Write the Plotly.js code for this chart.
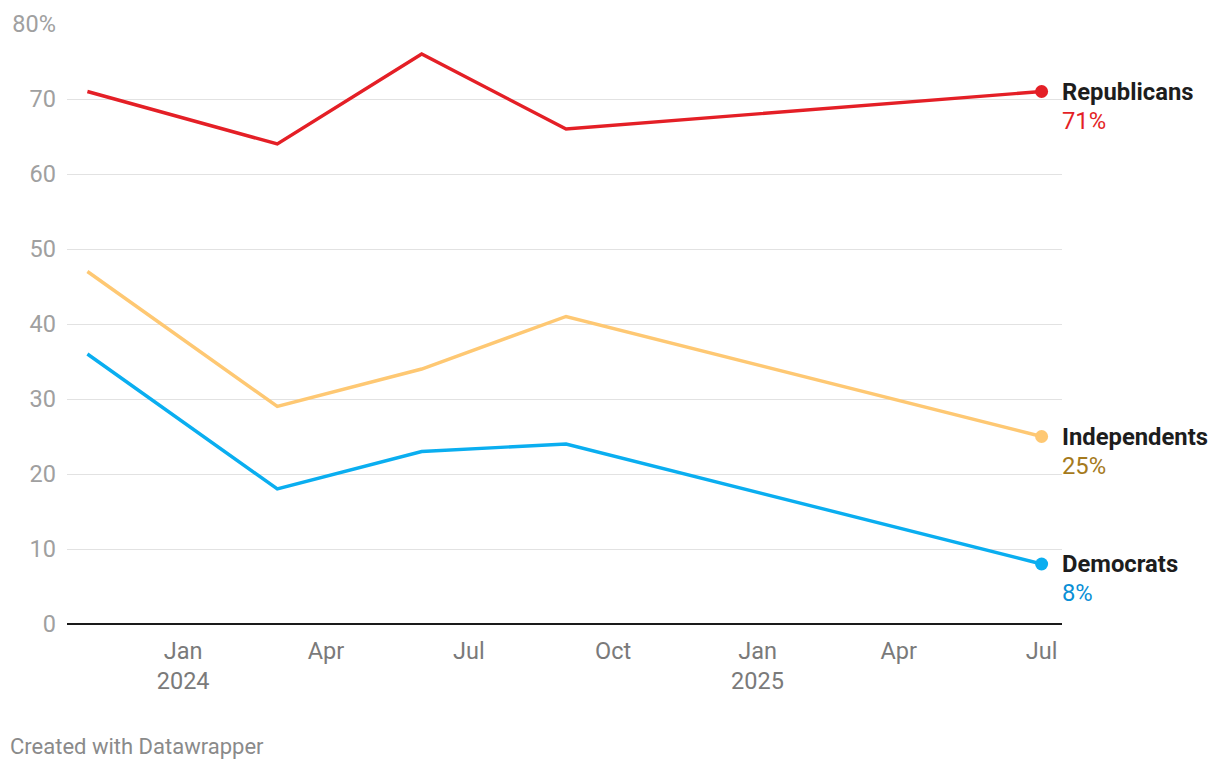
<!DOCTYPE html>
<html>
<head>
<meta charset="utf-8">
<script src="https://cdn.plot.ly/plotly-3.0.1.min.js"></script>
<style>
html,body{margin:0;padding:0;background:#fff;}
#chart{width:1220px;height:770px;}
</style>
</head>
<body>
<div id="chart"></div>
<script>
const dates = ["2023-11-01", "2024-03-01", "2024-06-01", "2024-09-01", "2025-07-01"];
const republicans = [71, 64, 76, 66, 71];
const independents = [47, 29, 34, 41, 25];
const democrats = [36, 18, 23, 24, 8];

const seriesNames = ["Republicans", "Independents", "Democrats"];
const seriesValues = [republicans, independents, democrats];
const lineColors = ["#e41f26", "#fec873", "#0aaef0"];
const labelColors = ["#e41f26", "#a57a1c", "#0a8fd6"];

const xTickVals = ["2024-01-01", "2024-04-01", "2024-07-01", "2024-10-01", "2025-01-01", "2025-04-01", "2025-07-01"];
const xTickText = ["Jan<br>2024", "Apr", "Jul", "Oct", "Jan<br>2025", "Apr", "Jul"];
const yTickVals = [0, 10, 20, 30, 40, 50, 60, 70, 80];
const yTickText = ["0", "10", "20", "30", "40", "50", "60", "70", "80%"];

const traces = [];
const annotations = [];
seriesNames.forEach((name, i) => {
  const vals = seriesValues[i];
  traces.push({
    x: dates, y: vals, type: "scatter", mode: "lines",
    line: {color: lineColors[i], width: 3.4},
    hoverinfo: "skip", showlegend: false, cliponaxis: false
  });
  const lastX = dates[dates.length - 1];
  const lastY = vals[vals.length - 1];
  traces.push({
    x: [lastX], y: [lastY], type: "scatter", mode: "markers",
    marker: {color: lineColors[i], size: 13},
    hoverinfo: "skip", showlegend: false, cliponaxis: false
  });
  annotations.push({
    x: lastX, y: lastY, xref: "x", yref: "y",
    text: "<b>" + name + "</b>", showarrow: false,
    xanchor: "left", yanchor: "middle", xshift: 18, yshift: 0,
    font: {family: "Roboto", size: 23.8, color: "#1d1d1d"}
  });
  annotations.push({
    x: lastX, y: lastY, xref: "x", yref: "y",
    text: lastY + "%", showarrow: false,
    xanchor: "left", yanchor: "middle", xshift: 18, yshift: -29,
    font: {family: "Roboto", size: 23.8, color: labelColors[i]}
  });
});

annotations.push({
  x: 0, y: 0, xref: "paper", yref: "paper",
  text: "Created with Datawrapper", showarrow: false,
  xanchor: "left", yanchor: "middle", xshift: -59, yshift: -122,
  font: {family: "Roboto", size: 22, color: "#8a8a8a"}
});

const layout = {
  width: 1220, height: 770,
  margin: {l: 67, r: 158, t: 24, b: 146},
  paper_bgcolor: "#fff", plot_bgcolor: "#fff",
  font: {family: "Roboto"},
  xaxis: {
    type: "date", range: ["2023-10-19", "2025-07-14"],
    tickvals: xTickVals, ticktext: xTickText,
    showgrid: false, zeroline: false, showline: false,
    ticks: "", ticklabelstandoff: 10,
    tickfont: {family: "Roboto", size: 23.5, color: "#7a7a7a"},
    fixedrange: true
  },
  yaxis: {
    range: [0, 80], tickvals: yTickVals, ticktext: yTickText,
    showgrid: true, gridcolor: "#e2e2e2", gridwidth: 1,
    zeroline: true, zerolinecolor: "#1a1a1a", zerolinewidth: 2,
    showline: false, ticks: "", ticklabelstandoff: 10,
    tickfont: {family: "Roboto", size: 23.5, color: "#a0a0a0"},
    fixedrange: true
  },
  annotations: annotations
};

Plotly.newPlot("chart", traces, layout, {displayModeBar: false, staticPlot: true});
</script>
</body>
</html>
